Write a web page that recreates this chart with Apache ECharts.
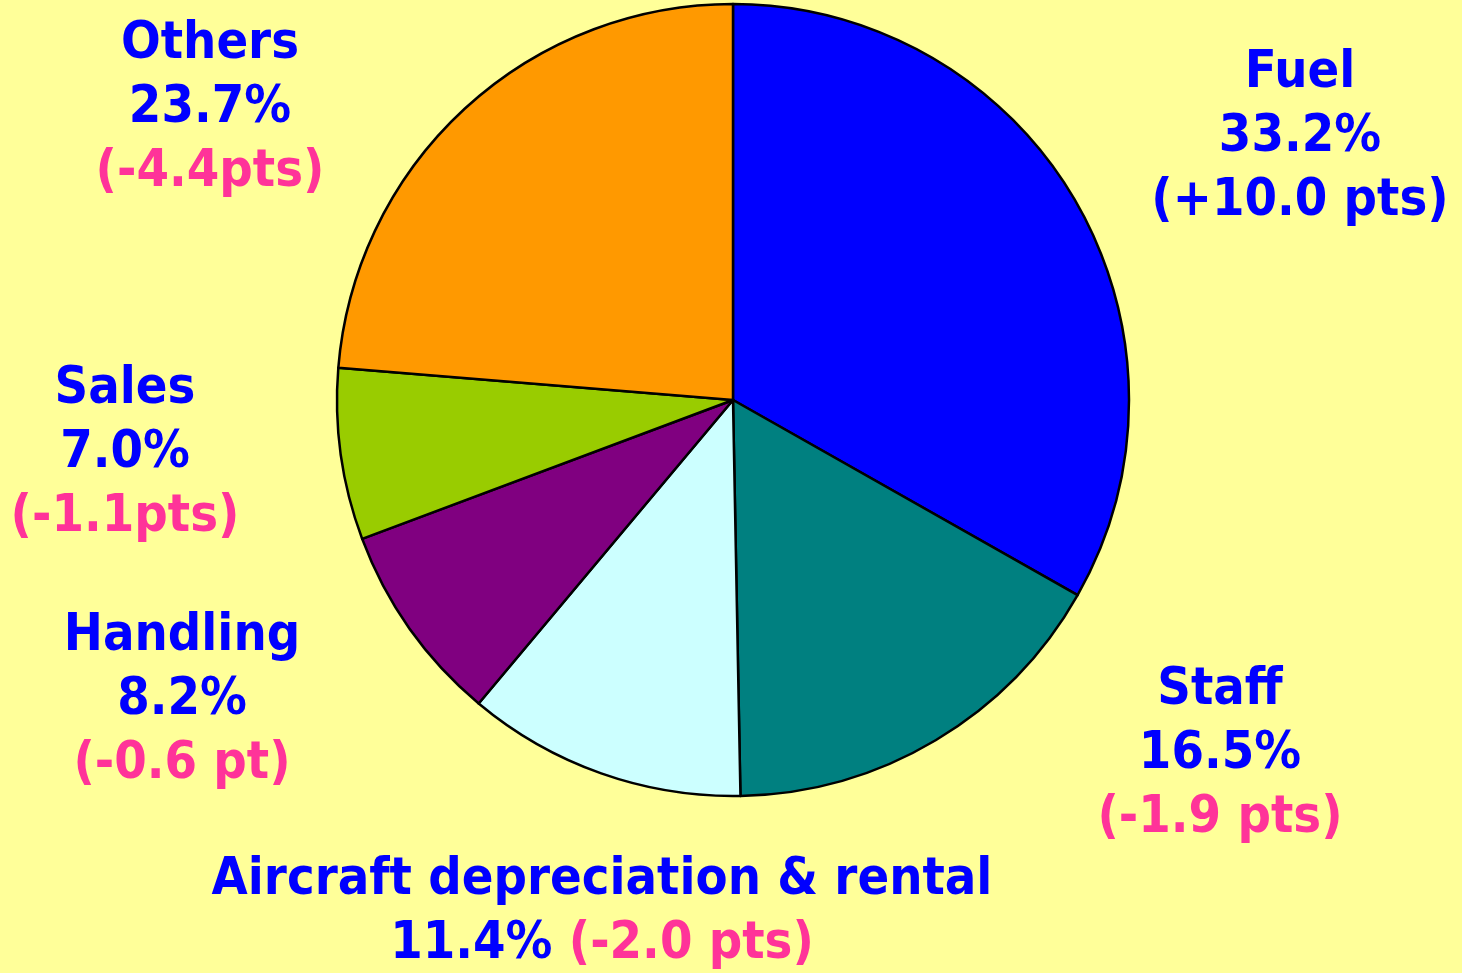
<!DOCTYPE html>
<html><head><meta charset="utf-8">
<script src="https://cdn.jsdelivr.net/npm/echarts@6/dist/echarts.min.js"></script>
<style>html,body{margin:0;padding:0;background:#FFFF99}#c{width:1462px;height:973px}</style>
</head><body><div id="c"></div>
<script>
const categories = ['Fuel', 'Staff', 'Aircraft depreciation & rental', 'Handling', 'Sales', 'Others'];
const shares = [33.2, 16.5, 11.4, 8.2, 7.0, 23.7];
const deltas = ['(+10.0 pts)', '(-1.9 pts)', '(-2.0 pts)', '(-0.6 pt)', '(-1.1pts)', '(-4.4pts)'];
const sliceColors = ['#0000FF', '#008080', '#CCFFFF', '#800080', '#99CC00', '#FF9900'];
const labelPos = [[1300, 137], [1220, 754], [602, 912], [182, 700], [125, 453], [210, 108]];

const FONT = 'DejaVu Sans Condensed, DejaVu Sans, sans-serif';
const FS = 52;
const chart = echarts.init(document.getElementById('c'));
chart.setOption({
  backgroundColor: '#FFFF99',
  animation: false,
  series: [{
    type: 'pie',
    center: [733, 400],
    radius: 396,
    startAngle: 90,
    clockwise: true,
    silent: true,
    data: categories.map((c, i) => ({
      name: c, value: shares[i],
      itemStyle: { color: sliceColors[i] }
    })),
    itemStyle: { borderColor: '#000', borderWidth: 2.5 },
    labelLine: { show: false },
    label: {
      show: true,
      position: 'outside',
      overflow: 'none',
      formatter: p => {
        const i = p.dataIndex;
        const d = deltas[i].indexOf('+') >= 0 ? 'dp' : 'dn';
        const pct = shares[i].toFixed(1) + '%';
        if (i === 2) return '{n|' + categories[i] + '}\n{p|' + pct + ' }{' + d + '|' + deltas[i] + '}';
        return '{n|' + categories[i] + '}\n{p|' + pct + '}\n{' + d + '|' + deltas[i] + '}';
      },
      rich: {
        n: { color: '#0000FF', fontFamily: FONT, fontWeight: 'bold', fontSize: FS, lineHeight: 64 },
        p: { color: '#0000FF', fontFamily: FONT, fontWeight: 'bold', fontSize: FS, lineHeight: 64 },
        dp: { color: '#0000FF', fontFamily: FONT, fontWeight: 'bold', fontSize: FS, lineHeight: 64 },
        dn: { color: '#FF3399', fontFamily: FONT, fontWeight: 'bold', fontSize: FS, lineHeight: 64 }
      },
      align: 'center'
    },
    labelLayout: p => ({
      x: labelPos[p.dataIndex][0],
      y: labelPos[p.dataIndex][1],
      align: 'center',
      verticalAlign: 'middle',
      width: 1000
    })
  }]
});
</script></body></html>
